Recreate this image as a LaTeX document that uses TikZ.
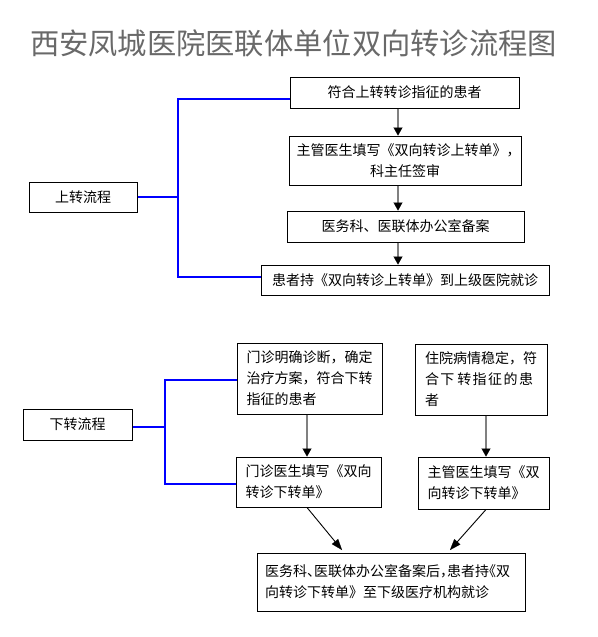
\documentclass[tikz,border=0pt]{standalone}
\usepackage{graphicx}
\usepackage{fontspec}
\setmainfont{Noto Sans CJK SC}
\usetikzlibrary{arrows.meta}
\definecolor{titlegray}{RGB}{105,105,105}
\definecolor{linkblue}{RGB}{0,0,255}
\definecolor{shaftgray}{RGB}{128,128,128}
\newcommand{\hwl}[1]{\makebox[7pt][l]{#1}}
\newcommand{\hwr}[1]{\makebox[7pt][r]{#1}}
\begin{document}
\begin{tikzpicture}[x=1pt,y=-1pt,
  box/.style={draw=black,line width=1pt,rectangle,inner sep=0pt,
    font=\fontsize{14}{21}\selectfont,align=center},
  lbox/.style={box,align=left},
  blueline/.style={draw=linkblue,line width=1.3pt},
  grayarrow/.style={draw=shaftgray,line width=2pt,
    -{Triangle[length=8pt,width=9pt,line width=0.1pt,color=black,fill=black]}},
  diagarrow/.style={draw=black,line width=0.9pt,
    -{Triangle[length=11pt,width=8pt,line width=0.1pt,color=black,fill=black]}}
]
\fill[white] (0,0) rectangle (597,637);
\useasboundingbox (0,0) rectangle (597,637);

\node[text=titlegray,inner sep=0pt] (title) at (293.5,43) {\resizebox{527pt}{!}{\fontsize{33}{33}\selectfont 西安凤城医院医联体单位双向转诊流程图}};

% upper part
\node[box,minimum width=108pt,minimum height=30pt] (up0) at (83,197) {上转流程};
\node[box,minimum width=229pt,minimum height=31pt] (u1) at (404.5,92.5) {符合上转转诊指征的患者};
\node[box,minimum width=232pt,minimum height=49pt] (u2) at (405,160.5) {主管医生填写《双向转诊上转单》\hwl{，}\\科主任签审};
\node[box,minimum width=237pt,minimum height=31pt] (u3) at (405.5,226.5) {医务科、医联体办公室备案};
\node[box,minimum width=288pt,minimum height=30pt] (u4) at (405,280) {患者持《双向转诊上转单》到上级医院就诊};

\coordinate (ua) at (178,99);
\coordinate (ub) at (178,277);
\coordinate (uc) at (178,197);
\draw[blueline] (up0.east) -- (uc);
\draw[blueline] (u1.west |- ua) -- (ua) -- (ub) -- (u4.west |- ub);

\coordinate (ax) at (398,0);
\draw[grayarrow] (u1.south -| ax) -- (u2.north -| ax);
\draw[grayarrow] (u2.south -| ax) -- (u3.north -| ax);
\draw[grayarrow] (u3.south -| ax) -- (u4.north -| ax);

% lower part
\node[box,minimum width=109pt,minimum height=31pt] (down0) at (77.5,424.5) {下转流程};
\node[lbox,text width=126pt,minimum width=145pt,minimum height=71pt] (l1) at (309.5,378.5) {门诊明确诊断，确定\\治疗方案，符合下转\\指征的患者};
\node[lbox,text width=126pt,minimum width=145pt,minimum height=50pt] (l2) at (308.5,482) {门诊医生填写《双向\\转诊下转单》};
\node[lbox,text width=112pt,minimum width=132pt,minimum height=71pt] (r1) at (481,379.5) {住院病情稳定，符\\\makebox[108pt][s]{合\hfil 下\hfil\hfil 转\hfil 指\hfil 征\hfil 的\hfil 患}\\者};
\node[lbox,text width=112pt,minimum width=131pt,minimum height=52pt] (r2) at (483.5,483) {主管医生填写《双\\向转诊下转单》};
\node[lbox,text width=252pt,minimum width=268pt,minimum height=58pt] (bt) at (391,582) {医务科\hwl{、}医联体办公室备案后\hwl{，}患者持\hwr{《}双\\向转诊下转单》至下级医疗机构就诊};

\coordinate (da) at (165,380);
\coordinate (db) at (165,484);
\coordinate (dc) at (165,427);
\draw[blueline] (down0.east |- dc) -- (dc);
\draw[blueline] (l1.west |- da) -- (da) -- (db) -- (l2.west |- db);

\coordinate (lx) at (307,0);
\coordinate (rx) at (486,0);
\draw[grayarrow] (l1.south -| lx) -- (l2.north -| lx);
\draw[grayarrow] (r1.south -| rx) -- (r2.north -| rx);

\coordinate (e1) at (342,550);
\coordinate (e2) at (450,550);
\draw[diagarrow] (l2.south -| lx) -- (e1);
\draw[diagarrow] (r2.south -| rx) -- (e2);
\end{tikzpicture}
\end{document}
